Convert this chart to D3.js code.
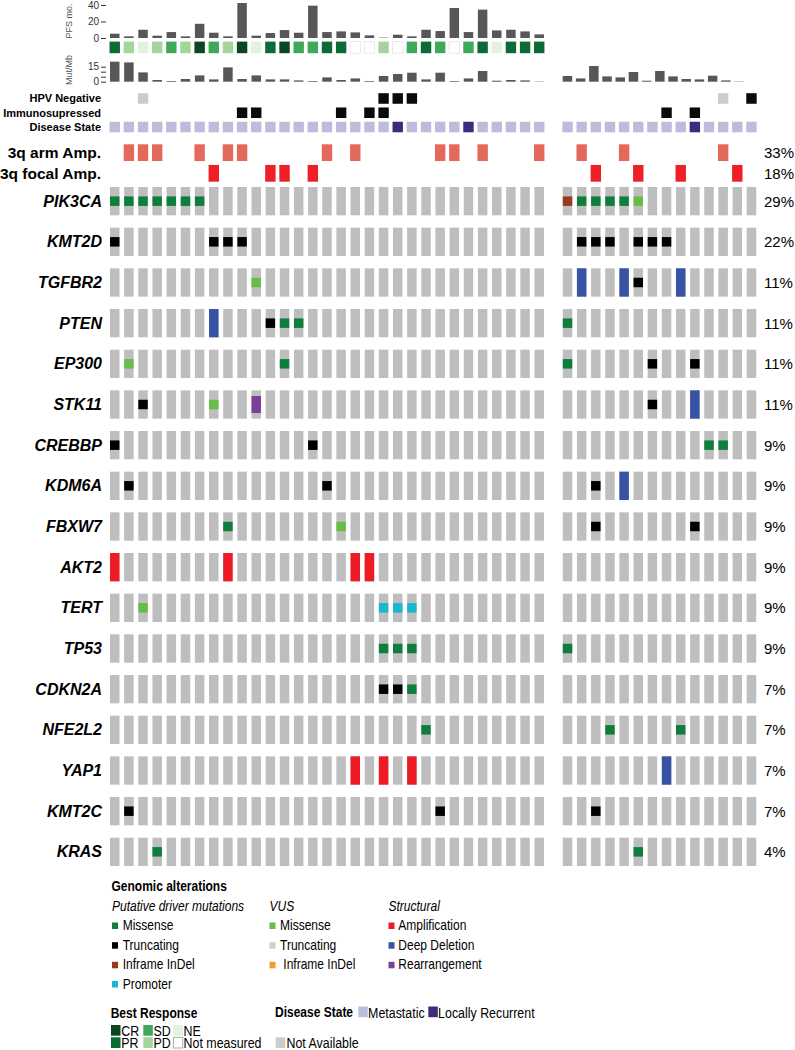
<!DOCTYPE html>
<html>
<head>
<meta charset="utf-8">
<script src="https://cdn.jsdelivr.net/npm/d3@7"></script>
<style>
  body { margin: 0; background: #fff; }
  svg { display: block; font-family: "Liberation Sans", Arial, sans-serif; }
</style>
</head>
<body>
<svg id="chart" width="795" height="1050"></svg>
<script>
// ---- data ----
// two cohorts: 31 patients left, 14 right (split with "|")
// digits = run of empty cells, "." = one empty cell
var genes = ["PIK3CA", "KMT2D", "TGFBR2", "PTEN", "EP300", "STK11", "CREBBP", "KDM6A",
             "FBXW7", "AKT2", "TERT", "TP53", "CDKN2A", "NFE2L2", "YAP1", "KMT2C", "KRAS"];
var genePct = ["29%", "22%", "11%", "11%", "11%", "11%", "9%", "9%", "9%", "9%", "9%", "9%",
               "7%", "7%", "7%", "7%", "4%"];
// M missense, T truncating, I inframe indel, P promoter (drivers)
// m / t / i = VUS, A amplification, D deep deletion, R rearrangement
var geneAlt = [
  "MMMMMMM|IMMMMm",
  "T6TTT|.TTT.TTT",
  "10m|.D..DT..D",
  "7D...TMM|M",
  ".m10M|M5T..T",
  "..T4m..R|6T..D",
  "T13T|10MM",
  ".T13T|..T.D",
  "8M7m|..T6T",
  "A7A8AA|",
  "..m16PPP|",
  "19MMM|M",
  "19TTM|",
  "22M|...M4M",
  "17A.A.A|7D",
  ".T21T|..T",
  "...M|5M"
];
var armAmp = ".XXX..X.XX5X.X5XX.X3X|.X..X6X";
var focalAmp = "7X...XX.X|..X..X..X...X";
var ampLabels = ["3q arm Amp.", "3q focal Amp."];
var ampPct = ["33%", "18%"];

var trackLabels = ["HPV Negative", "Immunosupressed", "Disease State"];
var hpvStatus = "..u16NNN|11u.N";          // N negative, u not available
var immuno = "9YY5Y.YY|7Y.Y";
var diseaseState = "MMMMMMMMMMMMMMMMMMMMLMMMMLMMMMM|MMMMMMMMMLMMMM"; // M metastatic, L locally recurrent

var pfsMonths = [5.2, 2, 10, 2.8, 7.2, 2, 17.2, 6.4, 2, 42.4, 2.8, 6, 9.6, 6.4, 39.2, 7.2,
                 8, 6.8, 3.2, 0.5, 4, 2, 10, 8.4, 36.4, 7.2, 34.4, 9.2, 10, 8, 4.4];
var bestResponse = ["PR","PD","NE","PD","SD","PD","CR","SD","PD","CR","NE","PR","CR","SD","SD","PR",
                    "PR","NM","NM","PD","NM","SD","PR","SD","NM","SD","PR","NE","PR","PR","PR"];
var mutMbLeft = [20, 19.3, 9.3, 1.7, 0.7, 2.7, 6.3, 2.3, 14.3, 2.7, 6.3, 2.3, 2.3, 1.3, 0.7, 4.3,
                 1.7, 3.3, 0.7, 5.7, 7.7, 9, 2.3, 9, 0.7, 3.3, 10.7, 1, 1.7, 1.3, 0.3];
var mutMbRight = [5.7, 3.3, 15.7, 5.3, 4.3, 9.7, 1, 10.7, 5.3, 2.7, 2.3, 6, 1.3, 0.3];

var nLeft = 31, nRight = 14;

// ---- colours ----
var altColor = {M: "#0e7e3c", T: "#000000", I: "#973a1d", P: "#1ab7d1",
                m: "#67bd45", t: "#cfcfcf", i: "#f59a33",
                A: "#ed1c24", D: "#3953a4", R: "#7b3f98"};
var respColor = {CR: "#0a4620", PR: "#0b6b34", SD: "#3fa95a", PD: "#a3d69a", NE: "#e3f2dd", NM: "#ffffff"};
var diseaseColor = {M: "#bcbddc", L: "#3f2a7d"};
var cellGray = "#bebebe";

function expand(s) {
  var parts = s.split("|");
  var f = function (p, n) { return p.replace(/\d+/g, function (d) { return ".".repeat(+d); }).padEnd(n, "."); };
  return (f(parts[0], nLeft) + f(parts[1] || "", nRight)).split("");
}
function slot(i) { return i < nLeft ? i : i + 1; }

var svg = d3.select("#chart");

// ---- scales ----
var x = d3.scaleBand().domain(d3.range(nLeft + nRight + 1)).range([110, 756.2]).paddingInner(0.33).paddingOuter(0);
var xMutRight = d3.scaleBand().domain(d3.range(nRight)).range([562.7, 562.7 + 13.2 * (nRight - 0.28)]).paddingInner(0.28);
var y = d3.scaleBand().domain(genes).range([187, 866]).paddingInner(0.304).paddingOuter(0);
var yAmp = d3.scaleBand().domain(ampLabels).range([144.3, 181.7]).paddingInner(0.19);
var yTrack = d3.scaleBand().domain(trackLabels).range([93.2, 132.3]).paddingInner(0.26);
var yPfs = d3.scaleLinear().domain([0, 40]).range([38, 5]);
var yMut = d3.scaleLinear().domain([0, 15]).range([81.7, 66.7]);

var sq = 10.4;
function cx(i) { return x(slot(i)) + x.bandwidth() / 2; }

// ---- PFS bars ----
svg.append("g").selectAll("rect").data(pfsMonths).enter().append("rect")
  .attr("x", function (d, i) { return x(slot(i)); })
  .attr("width", x.bandwidth())
  .attr("y", function (d) { return yPfs(d); })
  .attr("height", function (d) { return yPfs(0) - yPfs(d); })
  .attr("fill", "#575757");

var pfsAxis = svg.append("g").attr("transform", "translate(106,0)")
  .call(d3.axisLeft(yPfs).tickValues([0, 20, 40]).tickSize(5).tickPadding(2));
pfsAxis.select(".domain").remove();
pfsAxis.selectAll("text").attr("font-size", 10).attr("fill", "#333");
pfsAxis.selectAll("line").attr("stroke", "#333");

svg.append("text").attr("transform", "translate(72,21) rotate(-90)")
  .attr("text-anchor", "middle").attr("font-size", 9).attr("fill", "#555").text("PFS mo.");

// ---- best response ----
svg.append("g").selectAll("rect").data(bestResponse).enter().append("rect")
  .attr("x", function (d, i) { return cx(i) - sq / 2; })
  .attr("y", 41.6).attr("width", sq).attr("height", 11.6)
  .attr("fill", function (d) { return respColor[d]; })
  .attr("stroke", function (d) { return d == "NM" ? "#e4e4e4" : "none"; })
  .attr("stroke-width", 0.8);

// ---- Mut/Mb bars ----
var mutBars = svg.append("g");
mutBars.selectAll("rect.l").data(mutMbLeft).enter().append("rect").attr("class", "l")
  .attr("x", function (d, i) { return x(slot(i)); })
  .attr("width", x.bandwidth())
  .attr("y", function (d) { return yMut(d); })
  .attr("height", function (d) { return yMut(0) - yMut(d); })
  .attr("fill", "#575757");
mutBars.selectAll("rect.r").data(mutMbRight).enter().append("rect").attr("class", "r")
  .attr("x", function (d, i) { return xMutRight(i); })
  .attr("width", xMutRight.bandwidth())
  .attr("y", function (d) { return yMut(d); })
  .attr("height", function (d) { return yMut(0) - yMut(d); })
  .attr("fill", "#575757");

var mutAxis = svg.append("g").attr("transform", "translate(106,0)")
  .call(d3.axisLeft(yMut).tickValues([0, 5, 10, 15]).tickSize(5).tickPadding(2)
        .tickFormat(function (d) { return (d == 0 || d == 15) ? d : ""; }));
mutAxis.select(".domain").remove();
mutAxis.selectAll("text").attr("font-size", 10).attr("fill", "#333");
mutAxis.selectAll("line").attr("stroke", "#333");

svg.append("text").attr("transform", "translate(72,70) rotate(-90)")
  .attr("text-anchor", "middle").attr("font-size", 9).attr("fill", "#555").text("Mut/Mb");

// ---- clinical tracks ----
var trackData = [expand(hpvStatus), expand(immuno), expand(diseaseState)];
trackLabels.forEach(function (lab, t) {
  var g = svg.append("g");
  g.selectAll("rect").data(trackData[t].map(function (c, i) { return {c: c, i: i}; })
      .filter(function (d) { return d.c != "."; }))
    .enter().append("rect")
    .attr("x", function (d) { return cx(d.i) - sq / 2; })
    .attr("y", yTrack(lab)).attr("width", sq).attr("height", yTrack.bandwidth())
    .attr("fill", function (d) {
      if (t == 2) return diseaseColor[d.c];
      return d.c == "u" ? "#cccccc" : "#0a0a0a";
    });
  svg.append("text").attr("x", 101).attr("y", yTrack(lab) + yTrack.bandwidth() / 2 + 4)
    .attr("text-anchor", "end").attr("font-size", 11).attr("font-weight", "bold").text(lab);
});

// ---- 3q amplification ----
[armAmp, focalAmp].forEach(function (s, a) {
  var lab = ampLabels[a];
  svg.append("g").selectAll("rect").data(expand(s).map(function (c, i) { return {c: c, i: i}; })
      .filter(function (d) { return d.c == "X"; }))
    .enter().append("rect")
    .attr("x", function (d) { return cx(d.i) - sq / 2; })
    .attr("y", yAmp(lab)).attr("width", sq).attr("height", yAmp.bandwidth())
    .attr("fill", a == 0 ? "#e4695a" : "#ee1f26");
  svg.append("text").attr("x", 101).attr("y", yAmp(lab) + yAmp.bandwidth() / 2 + 5.5)
    .attr("text-anchor", "end").attr("font-size", 15.5).attr("font-weight", "bold").text(lab);
  svg.append("text").attr("x", 764).attr("y", yAmp(lab) + yAmp.bandwidth() / 2 + 5.5)
    .attr("font-size", 15).text(ampPct[a]);
});

// ---- oncoprint grid ----
var grid = svg.append("g");
function markH(c, bh) { return (c == "A" || c == "D") ? bh : (c == "R" ? bh * 0.6 : 9.5); }
genes.forEach(function (gene, r) {
  var row = expand(geneAlt[r]);
  var gy = y(gene), bh = y.bandwidth();
  grid.append("g").selectAll("rect").data(d3.range(nLeft + nRight)).enter().append("rect")
    .attr("x", function (i) { return x(slot(i)); })
    .attr("y", gy).attr("width", x.bandwidth()).attr("height", bh)
    .attr("fill", cellGray);
  grid.append("g").selectAll("rect").data(row.map(function (c, i) { return {c: c, i: i}; })
      .filter(function (d) { return d.c != "."; }))
    .enter().append("rect")
    .attr("x", function (d) { return x(slot(d.i)); })
    .attr("width", x.bandwidth())
    .attr("y", function (d) { return gy + (bh - markH(d.c, bh)) / 2; })
    .attr("height", function (d) { return markH(d.c, bh); })
    .attr("fill", function (d) { return altColor[d.c]; });

  svg.append("text").attr("x", 102).attr("y", gy + bh / 2 + 5.5)
    .attr("text-anchor", "end").attr("font-size", 16)
    .attr("font-weight", "bold").attr("font-style", "italic").text(gene);
  svg.append("text").attr("x", 764).attr("y", gy + bh / 2 + 5.5)
    .attr("font-size", 15).text(genePct[r]);
});

// ---- legend (condensed type) ----
var lg = svg.append("g");
function ltext(xp, yp, str, size) {
  return lg.append("text").attr("class", "lt").attr("x", xp).attr("y", yp)
    .attr("font-size", size || 15).attr("xml:space", "preserve").style("white-space", "pre").text(str);
}
ltext(111.5, 891, "Genomic alterations").attr("font-weight", "bold");

var legendCols = [
  {title: "Putative driver mutations", x: 112, tx: 122.7, items: [["M", "Missense"], ["T", "Truncating"], ["I", "Inframe InDel"], ["P", "Promoter"]]},
  {title: "VUS", x: 269.5, tx: 280, items: [["m", "Missense"], ["t", "Truncating"], ["i", " Inframe InDel"]]},
  {title: "Structural", x: 388.5, tx: 398.3, items: [["A", "Amplification"], ["D", "Deep Deletion"], ["R", "Rearrangement"]]}
];
var itemY = [930, 949.7, 969.3, 988.5];
legendCols.forEach(function (col) {
  ltext(col.x, 911, col.title).attr("font-style", "italic");
  col.items.forEach(function (it, k) {
    lg.append("rect").attr("x", col.x).attr("y", itemY[k] - 7.5).attr("width", 6).attr("height", 6.5)
      .attr("fill", altColor[it[0]]);
    ltext(col.tx, itemY[k], it[1]);
  });
});

ltext(110.7, 1018.3, "Best Response").attr("font-weight", "bold");
var respLegend = [["CR", 0, 0], ["SD", 1, 0], ["NE", 2, 0], ["PR", 0, 1], ["PD", 1, 1], ["NM", 2, 1]];
var respNames = {CR: "CR", SD: "SD", NE: "NE", PR: "PR", PD: "PD", NM: "Not measured"};
var respX = [111, 143.3, 173.3];
respLegend.forEach(function (r) {
  var ry = r[2] == 0 ? 1025 : 1037.3;
  lg.append("rect").attr("x", respX[r[1]]).attr("y", ry).attr("width", 9.5).attr("height", 10.7)
    .attr("fill", respColor[r[0]])
    .attr("stroke", r[0] == "NM" ? "#999" : "none").attr("stroke-width", 0.8);
  ltext(respX[r[1]] + 10.3, ry + 10.5, respNames[r[0]], 15.5);
});

ltext(275, 1016.7, "Disease State").attr("font-weight", "bold");
[["M", "Metastatic", 358.3], ["L", "Locally Recurrent", 428.3]].forEach(function (d) {
  lg.append("rect").attr("x", d[2]).attr("y", 1006.5).attr("width", 9.5).attr("height", 10.7)
    .attr("fill", diseaseColor[d[0]]);
  ltext(d[2] + 9.8, 1017.5, d[1], 15.5);
});
lg.append("rect").attr("x", 275.7).attr("y", 1037.3).attr("width", 9.5).attr("height", 10.7).attr("fill", "#cccccc");
ltext(286.5, 1047.8, "Not Available", 15.5);

// squeeze legend text to a narrow face (no narrow font installed)
lg.selectAll("text.lt").each(function () {
  var w = this.getComputedTextLength();
  d3.select(this).attr("textLength", w * 0.8).attr("lengthAdjust", "spacingAndGlyphs");
});
</script>
</body>
</html>
